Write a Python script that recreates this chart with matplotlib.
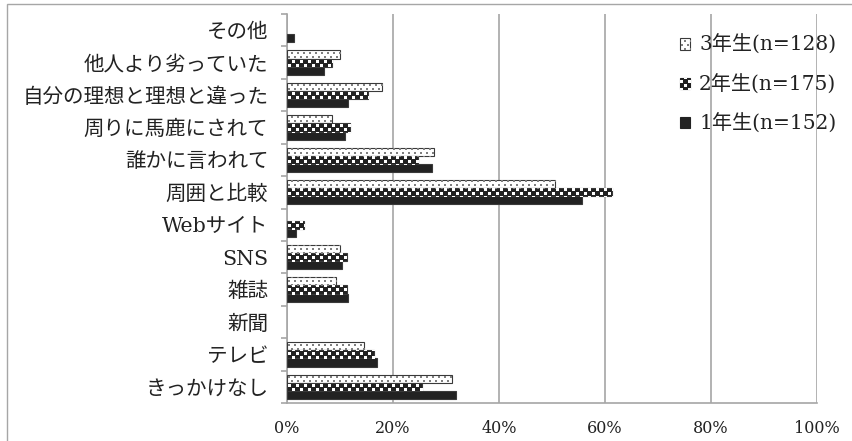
import matplotlib
matplotlib.use("Agg")
import matplotlib.pyplot as plt
from matplotlib.patches import Patch, Rectangle
from matplotlib.ticker import FuncFormatter, FixedLocator
import numpy as np

plt.rcParams['font.family'] = ['DejaVu Serif', 'Noto Sans CJK JP']

categories = ["きっかけなし", "テレビ", "新聞", "雑誌", "SNS", "Webサイト",
              "周囲と比較", "誰かに言われて", "周りに馬鹿にされて",
              "自分の理想と理想と違った", "他人より劣っていた", "その他"]
grade3 = [31.1, 14.5, 0, 9.2, 10.0, 0, 50.6, 27.8, 8.4, 17.9, 10.0, 0]
grade2 = [25.5, 16.5, 0, 11.3, 11.3, 3.2, 61.4, 24.8, 11.9, 15.2, 8.5, 0]
grade1 = [31.9, 16.9, 0, 11.6, 10.3, 1.7, 55.6, 27.3, 10.9, 11.6, 7.0, 1.3]
series_labels = ["3年生(n=128)", "2年生(n=175)", "1年生(n=152)"]
x_ticks = [0, 20, 40, 60, 80, 100]

W, H = 852, 441
fig = plt.figure(figsize=(W / 100, H / 100), dpi=100)
ax = fig.add_axes([287 / W, 1 - 403 / H, (817 - 287) / W, (403 - 14) / H])

grid_c = "#a6a6a6"
edge_c = "#3a3a3a"
dark = "#222222"
bh = 0.25
y = np.arange(len(categories))

# pixel-level fill patterns (transparent except for the marks)
yy, xx = np.mgrid[0:H, 0:W]
check_mask = ((xx // 4 + yy // 4) % 2 == 0) & (xx % 4 < 3) & (yy % 4 < 3)
check_img = np.zeros((H, W, 4))
check_img[check_mask] = (1, 1, 1, 1)
row = yy // 4
dot_mask = (yy % 4 < 2) & (((xx + 3 * (row % 2)) % 6) < 2)
dot_img = np.zeros((H, W, 4))
dot_img[dot_mask] = (0.50, 0.50, 0.50, 1)


def fill_pattern(patches, img, z=0):
    for p in patches:
        im = fig.figimage(img, xo=0, yo=0, origin="upper", zorder=z)
        im.set_clip_path(p)


def bars(vals, offs, face):
    lw = [0.8 if v > 0 else 0 for v in vals]
    return ax.barh(y + offs, vals, height=bh, facecolor=face, edgecolor=edge_c,
                   linewidth=lw, zorder=3)


b3 = bars(grade3, bh, "white")
b2 = bars(grade2, 0, dark)
b1 = bars(grade1, -bh, dark)
fill_pattern([p for p, v in zip(b3, grade3) if v > 0], dot_img)
fill_pattern([p for p, v in zip(b2, grade2) if v > 0], check_img)

ax.set_xlim(0, 100)
ax.set_ylim(-0.5, len(categories) - 0.5)

ax.xaxis.set_major_locator(FixedLocator(x_ticks))
ax.xaxis.set_major_formatter(FuncFormatter(lambda v, p: f"{v:.0f}%"))
ax.xaxis.set_minor_locator(FixedLocator([0, 100]))
ax.tick_params(axis="x", which="major", length=0, pad=12, labelsize=11.5,
               labelcolor="#222222")
ax.tick_params(axis="x", which="minor", length=6.5, color=grid_c, width=1.2)
ax.grid(axis="x", color=grid_c, linewidth=1.2, zorder=0)

ax.yaxis.set_major_locator(FixedLocator(np.arange(-0.5, len(categories), 1.0)))
ax.yaxis.set_major_formatter(FuncFormatter(lambda v, p: ""))
ax.yaxis.set_minor_locator(FixedLocator(y))
ax.set_yticklabels(categories, minor=True)
ax.tick_params(axis="y", which="major", length=4, color=grid_c, width=1.2)
ax.tick_params(axis="y", which="minor", length=0, pad=13.5, labelsize=14.8,
               labelcolor="#222222")

for s in ("top", "right"):
    ax.spines[s].set_visible(False)
for s in ("left", "bottom"):
    ax.spines[s].set_color(grid_c)
    ax.spines[s].set_linewidth(1.2)

handles = [
    Patch(facecolor="white", edgecolor=edge_c, linewidth=0.8),
    Patch(facecolor=dark, edgecolor=dark, linewidth=0.8),
    Patch(facecolor=dark, edgecolor=dark, linewidth=0.8),
]
leg = fig.legend(handles, series_labels, loc="upper left",
                 bbox_to_anchor=(680 / W, 1 - 35 / H),
                 frameon=False, fontsize=14.5, borderpad=0, borderaxespad=0,
                 handlelength=0.5, handleheight=0.5, handletextpad=0.45,
                 labelspacing=0.95)
for t in leg.get_texts():
    t.set_color("#222222")

fig.add_artist(Rectangle((7 / W, -0.05), 1.1, 1.05 - 4 / H, transform=fig.transFigure,
                         fill=False, edgecolor=grid_c, linewidth=1.0))

fig.canvas.draw()
lh = leg.legend_handles
fill_pattern([lh[0]], dot_img, z=6)
fill_pattern([lh[1]], check_img, z=6)

fig.savefig("out.png", dpi=100)
